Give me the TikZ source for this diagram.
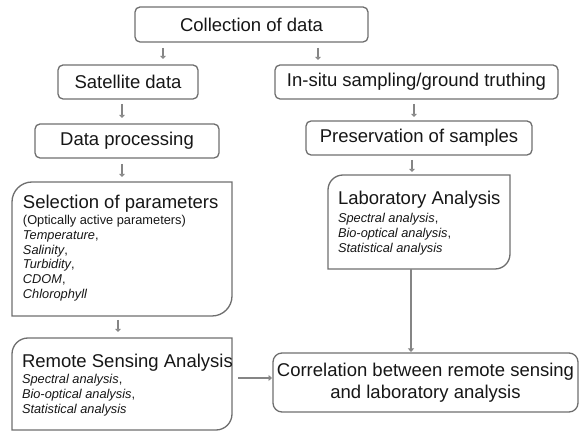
\documentclass[tikz,border=0pt]{standalone}
\usepackage{fontspec}
\setmainfont{Liberation Sans}
\usetikzlibrary{arrows.meta}
\definecolor{boxc}{HTML}{6E6E6E}
\definecolor{arrc}{HTML}{858585}
\definecolor{txtc}{HTML}{161616}
\tikzset{
  frame/.style={inner sep=0pt, outer sep=0pt},
  box/.style={frame, draw=boxc, line width=1.3pt, rounded corners=5pt},
  bigline/.style={draw=boxc, line width=1.3pt},
  big/.style={font=\fontsize{18.5}{21.5}\selectfont, text=txtc},
  small/.style={font=\fontsize{12.8}{14.8}\selectfont, text=txtc},
  arr/.style={draw=arrc, line width=2.6pt, -{Triangle[length=3pt,width=5.5pt]}},
  larr/.style={draw=arrc, line width=2.6pt, -{Triangle[length=3.5pt,width=6pt]}}
}
\begin{document}
\begin{tikzpicture}[x=1pt,y=1pt]
\useasboundingbox (0,0) rectangle (579,431);
% simple boxes
\node[box,big,minimum width=233pt,minimum height=35pt] (coll) at (251.5,406.5) {Collection of data};
\node[box,big,minimum width=140pt,minimum height=34pt] (sat) at (128,349) {Satellite data};
\node[box,big,minimum width=184pt,minimum height=34pt] (proc) at (127,290) {Data processing};
\node[box,big,minimum width=283pt,minimum height=34pt] (insitu) at (416.5,349) {In-situ sampling/ground truthing};
\node[box,big,minimum width=226pt,minimum height=34pt] (pres) at (419,293) {Preservation of samples};
\node[box,big,rounded corners=9pt,minimum width=305pt,minimum height=59pt,align=center] (corr) at (425.5,48.5) {Correlation between remote sensing\\and laboratory analysis};
% big boxes with two rounded corners
\node[frame,minimum width=220pt,minimum height=134pt] (sel) at (122,182) {};
\node[frame,minimum width=220pt,minimum height=92pt] (rem) at (122,47) {};
\node[frame,minimum width=182pt,minimum height=94pt] (lab) at (419,209) {};
\draw[bigline] ([xshift=20pt]sel.north west) -- (sel.north east) -- ([yshift=20pt]sel.south east)
  arc[start angle=0,end angle=-90,radius=20pt] -- (sel.south west) -- ([yshift=-20pt]sel.north west)
  arc[start angle=180,end angle=90,radius=20pt] -- cycle;
\draw[bigline] ([xshift=16pt]rem.north west) -- (rem.north east) -- ([yshift=16pt]rem.south east)
  arc[start angle=0,end angle=-90,radius=16pt] -- (rem.south west) -- ([yshift=-16pt]rem.north west)
  arc[start angle=180,end angle=90,radius=16pt] -- cycle;
\draw[bigline] ([xshift=15pt]lab.north west) -- (lab.north east) -- ([yshift=15pt]lab.south east)
  arc[start angle=0,end angle=-90,radius=15pt] -- (lab.south west) -- ([yshift=-15pt]lab.north west)
  arc[start angle=180,end angle=90,radius=15pt] -- cycle;
% texts in big boxes
\node[frame,big,anchor=base west] (selH) at (23,222) {Selection of parameters};
\node[frame,small,anchor=base west] (selL) at (23,206.5) {\vtop{\hbox{(Optically active parameters)}\hbox{\textit{Temperature},}\hbox{\textit{Salinity},}\hbox{\textit{Turbidity},}\hbox{\textit{CDOM},}\hbox{\textit{Chlorophyll}}}};
\node[frame,big,anchor=base west] (remH) at (22,63) {Remote Sensing Analysis};
\node[frame,small,anchor=base west] (remL) at (22,47) {\vtop{\hbox{\textit{Spectral analysis},}\hbox{\textit{Bio-optical analysis},}\hbox{\textit{Statistical analysis}}}};
\node[frame,big,anchor=base west] (labH) at (338,226) {Laboratory Analysis};
\node[frame,small,anchor=base west] (labL) at (338,208) {\vtop{\hbox{\textit{Spectral analysis},}\hbox{\textit{Bio-optical analysis},}\hbox{\textit{Statistical analysis}}}};
% arrow x positions
\coordinate (x1) at (163,0);
\coordinate (x2) at (318,0);
\coordinate (x3) at (122,0);
\coordinate (x5) at (118,0);
\coordinate (x6) at (414,0);
\coordinate (x7) at (412,0);
\coordinate (x8) at (411,0);
\coordinate (y9) at (0,53);
% connectors
\draw[arr,shorten <=6pt,shorten >=6pt] (coll.south -| x1) -- (sat.north -| x1);
\draw[arr,shorten <=6pt,shorten >=5pt] (coll.south -| x2) -- (insitu.north -| x2);
\draw[arr,shorten <=5pt,shorten >=6pt] (sat.south -| x3) -- (proc.north -| x3);
\draw[arr,shorten <=6pt,shorten >=5pt] (proc.south -| x3) -- (sel.north -| x3);
\draw[arr,shorten <=4pt,shorten >=6pt] (sel.south -| x5) -- (rem.north -| x5);
\draw[arr,shorten <=5pt,shorten >=4pt] (insitu.south -| x6) -- (pres.north -| x6);
\draw[arr,shorten <=5pt,shorten >=3pt] (pres.south -| x7) -- (lab.north -| x7);
\draw[larr,shorten >=1pt] (lab.south -| x8) -- (corr.north -| x8);
\draw[larr,shorten <=6pt,shorten >=1pt] (rem.east |- y9) -- (corr.west |- y9);
\end{tikzpicture}
\end{document}
